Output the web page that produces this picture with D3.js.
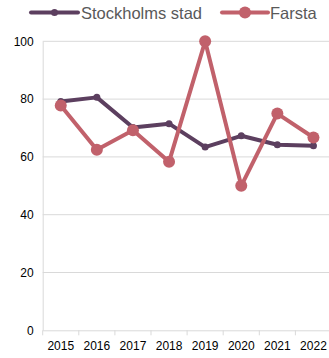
<!DOCTYPE html>
<html>
<head>
<meta charset="utf-8">
<script src="https://cdn.jsdelivr.net/npm/d3@7"></script>
<style>
  html, body { margin: 0; padding: 0; background: #fff; }
  svg { display: block; font-family: "Liberation Sans", Arial, sans-serif; }
</style>
</head>
<body>
<svg id="chart" width="329" height="358"></svg>
<script>
// Years on the x axis
const years = ["2015", "2016", "2017", "2018", "2019", "2020", "2021", "2022"];
// Share per year for each area
const stockholmValues = [79.2, 80.6, 70.2, 71.5, 63.4, 67.3, 64.2, 63.9];
const farstaValues = [77.8, 62.5, 69.2, 58.3, 100, 50, 75, 66.7];
const seriesNames = ["Stockholms stad", "Farsta"];
const yTicks = [0, 20, 40, 60, 80, 100];

const colors = ["#5c3f5f", "#c1616b"];
const series = [
  { name: seriesNames[0], values: stockholmValues, color: colors[0], r: 3.5 },
  { name: seriesNames[1], values: farstaValues, color: colors[1], r: 6 }
];

const svg = d3.select("#chart");
const margin = { top: 41.3, left: 42.7, right: -2.5, bottom: 28 };
const width = 329 - margin.left - margin.right;
const y0 = 330.3;

const x = d3.scaleBand().domain(years).range([margin.left, margin.left + width]);
const y = d3.scaleLinear().domain([0, 100]).range([y0, margin.top]);

// Horizontal grid lines
svg.append("g")
  .selectAll("line")
  .data(yTicks.filter(d => d > 0))
  .join("line")
  .attr("x1", margin.left).attr("x2", 329)
  .attr("y1", d => y(d)).attr("y2", d => y(d))
  .attr("stroke", "#d9d9d9").attr("stroke-width", 1);

// Y axis
const yAxis = svg.append("g")
  .attr("transform", `translate(${margin.left},0)`)
  .call(d3.axisLeft(y).tickValues(yTicks).tickSize(0).tickPadding(9));
yAxis.select(".domain").attr("stroke", "#d9d9d9");
yAxis.selectAll("text").attr("font-size", 12).attr("fill", "#000");

// X axis
const xAxis = svg.append("g")
  .attr("transform", `translate(0,${y0})`)
  .call(d3.axisBottom(x).tickSize(0).tickPadding(11));
xAxis.select(".domain").attr("stroke", "#d9d9d9");
xAxis.selectAll("text").attr("font-size", 12).attr("fill", "#000");
// Tick marks at band boundaries
xAxis.append("g")
  .selectAll("line")
  .data(years)
  .join("line")
  .attr("x1", d => x(d)).attr("x2", d => x(d))
  .attr("y1", 0).attr("y2", 5)
  .attr("stroke", "#d9d9d9");

const cx = d => x(d) + x.bandwidth() / 2;
const line = d3.line().x(d => cx(d.year)).y(d => y(d.value));

series.forEach(s => {
  const pts = years.map((yr, i) => ({ year: yr, value: s.values[i] }));
  const g = svg.append("g");
  g.append("path")
    .datum(pts)
    .attr("d", line)
    .attr("fill", "none")
    .attr("stroke", s.color)
    .attr("stroke-width", 4)
    .attr("stroke-linejoin", "round");
  g.selectAll("circle")
    .data(pts)
    .join("circle")
    .attr("cx", d => cx(d.year))
    .attr("cy", d => y(d.value))
    .attr("r", s.r)
    .attr("fill", s.color);
});

// Legend
const legendItems = [
  { x0: 31, x1: 78, tx: 81 },
  { x0: 222, x1: 268, tx: 270 }
];
series.forEach((s, i) => {
  const L = legendItems[i];
  const g = svg.append("g");
  g.append("line")
    .attr("x1", L.x0).attr("x2", L.x1)
    .attr("y1", 12.5).attr("y2", 12.5)
    .attr("stroke", s.color).attr("stroke-width", 4)
    .attr("stroke-linecap", "round");
  g.append("circle")
    .attr("cx", (L.x0 + L.x1) / 2).attr("cy", 12.5)
    .attr("r", s.r).attr("fill", s.color);
  g.append("text")
    .attr("x", L.tx).attr("y", 18.5)
    .attr("font-size", 16.5)
    .attr("fill", "#595959")
    .text(s.name);
});
</script>
</body>
</html>
